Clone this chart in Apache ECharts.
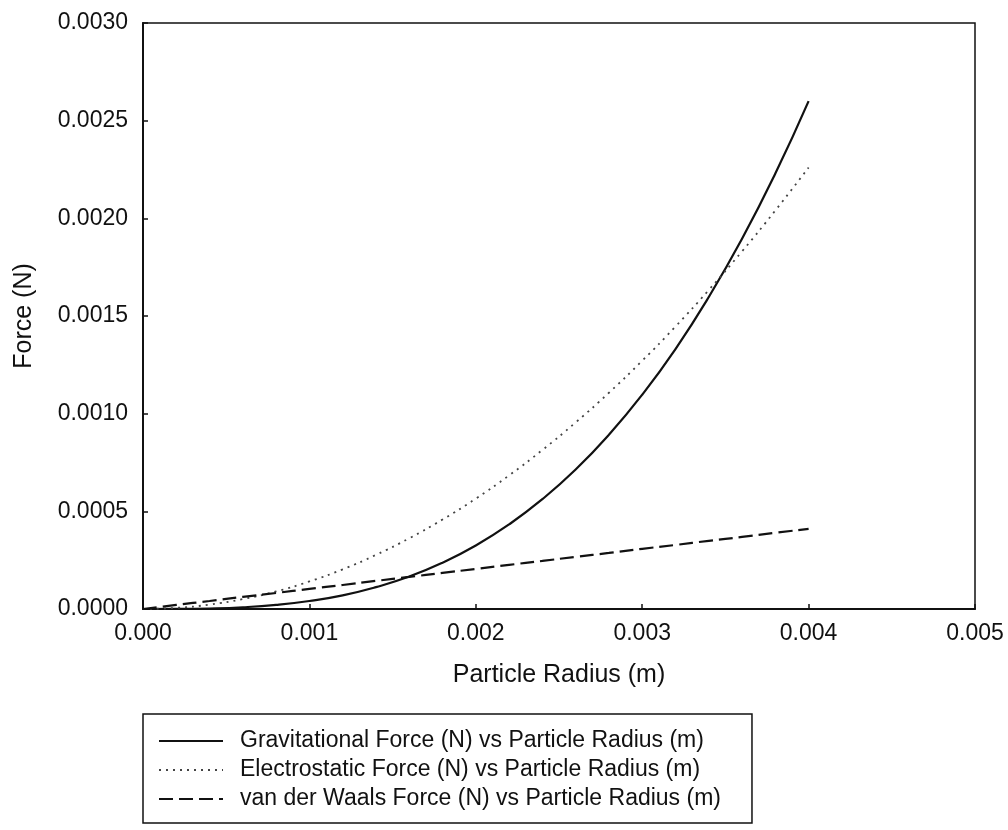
<!DOCTYPE html>
<html>
<head>
<meta charset="utf-8">
<script src="https://cdn.jsdelivr.net/npm/echarts@6/dist/echarts.min.js"></script>
<style>
  html, body { margin: 0; padding: 0; background: #fff; }
  #chart { width: 1008px; height: 830px; }
</style>
</head>
<body>
<div id="chart"></div>
<script>
// Particle radius (m)
const radius = [0, 0.0002, 0.0004, 0.0006, 0.0008, 0.0010, 0.0012, 0.0014, 0.0016, 0.0018, 0.0020,
                0.0022, 0.0024, 0.0026, 0.0028, 0.0030, 0.0032, 0.0034, 0.0036, 0.0038, 0.0040];
// Gravitational force (N)
const gravitational = [0, 0.0000003, 0.0000026, 0.0000088, 0.000021, 0.000041, 0.000070, 0.000112, 0.000166, 0.000237, 0.000325,
                       0.000433, 0.000562, 0.000714, 0.000892, 0.001097, 0.001331, 0.001597, 0.001895, 0.002229, 0.002600];
// Electrostatic force (N)
const electrostatic = [0, 0.0000057, 0.0000226, 0.000051, 0.000090, 0.000141, 0.000203, 0.000277, 0.000362, 0.000458, 0.000565,
                       0.000684, 0.000814, 0.000955, 0.001107, 0.001271, 0.001446, 0.001633, 0.001831, 0.002040, 0.002260];
// van der Waals force (N)
const vanDerWaals = [0, 0.000021, 0.000041, 0.000062, 0.000082, 0.000103, 0.000123, 0.000144, 0.000164, 0.000185, 0.000205,
                     0.000226, 0.000246, 0.000267, 0.000287, 0.000308, 0.000328, 0.000349, 0.000369, 0.000390, 0.000410];

const seriesNames = [
  'Gravitational Force (N) vs Particle Radius (m)',
  'Electrostatic Force (N) vs Particle Radius (m)',
  'van der Waals Force (N) vs Particle Radius (m)'
];
const xTicks = { min: 0, max: 0.005, interval: 0.001 };
const yTicks = { min: 0, max: 0.003, interval: 0.0005 };

const pair = (ys) => radius.map((x, i) => [x, ys[i]]);
const FONT = '"Liberation Sans", Arial, sans-serif';

const chart = echarts.init(document.getElementById('chart'), null, { renderer: 'canvas' });
chart.setOption({
  backgroundColor: '#ffffff',
  animation: false,
  textStyle: { fontFamily: FONT, color: '#111' },
  grid: {
    left: 143, top: 23, right: 33, bottom: 221,
    show: true, borderColor: '#111', borderWidth: 1.5, backgroundColor: 'transparent'
  },
  xAxis: {
    type: 'value',
    min: xTicks.min, max: xTicks.max, interval: xTicks.interval,
    name: 'Particle Radius (m)',
    nameLocation: 'middle',
    nameGap: 54,
    nameTextStyle: { fontFamily: FONT, fontSize: 25, color: '#111' },
    axisLine: { show: true, onZero: false, lineStyle: { color: '#111', width: 2 } },
    axisTick: { show: true, inside: true, length: 5, lineStyle: { color: '#111', width: 1.5 } },
    axisLabel: { margin: 13, fontFamily: FONT, fontSize: 23, color: '#111',
                 formatter: v => v.toFixed(3) },
    splitLine: { show: false }
  },
  yAxis: {
    type: 'value',
    min: yTicks.min, max: yTicks.max, interval: yTicks.interval,
    name: 'Force (N)',
    nameLocation: 'middle',
    nameGap: 106,
    nameRotate: 90,
    nameTextStyle: { fontFamily: FONT, fontSize: 25, color: '#111' },
    axisLine: { show: true, onZero: false, lineStyle: { color: '#111', width: 2 } },
    axisTick: { show: true, inside: true, length: 5, lineStyle: { color: '#111', width: 1.5 } },
    axisLabel: { margin: 15, fontFamily: FONT, fontSize: 23, color: '#111',
                 formatter: v => v.toFixed(4) },
    splitLine: { show: false }
  },
  legend: {
    orient: 'vertical',
    left: 143, top: 714,
    padding: [13, 31, 10, 15],
    borderColor: '#111', borderWidth: 1.5,
    backgroundColor: '#fff',
    itemWidth: 64, itemHeight: 14,
    itemGap: 1,
    selectedMode: false,
    itemStyle: { opacity: 0 },
    lineStyle: { opacity: 1 },
    textStyle: { fontFamily: FONT, fontSize: 23, color: '#111', lineHeight: 28, padding: [0, 0, 0, 12] },
    data: seriesNames
  },
  series: [
    {
      name: seriesNames[0], type: 'line', data: pair(gravitational),
      symbol: 'none', smooth: true,
      lineStyle: { color: '#111', width: 2.2, type: 'solid' },
      itemStyle: { color: '#111' }
    },
    {
      name: seriesNames[1], type: 'line', data: pair(electrostatic),
      symbol: 'none', smooth: true,
      lineStyle: { color: '#444', width: 1.8, type: [2, 5] },
      itemStyle: { color: '#444' }
    },
    {
      name: seriesNames[2], type: 'line', data: pair(vanDerWaals),
      symbol: 'none', smooth: true,
      lineStyle: { color: '#111', width: 2.2, type: [14, 6] },
      itemStyle: { color: '#111' }
    }
  ]
});
</script>
</body>
</html>
